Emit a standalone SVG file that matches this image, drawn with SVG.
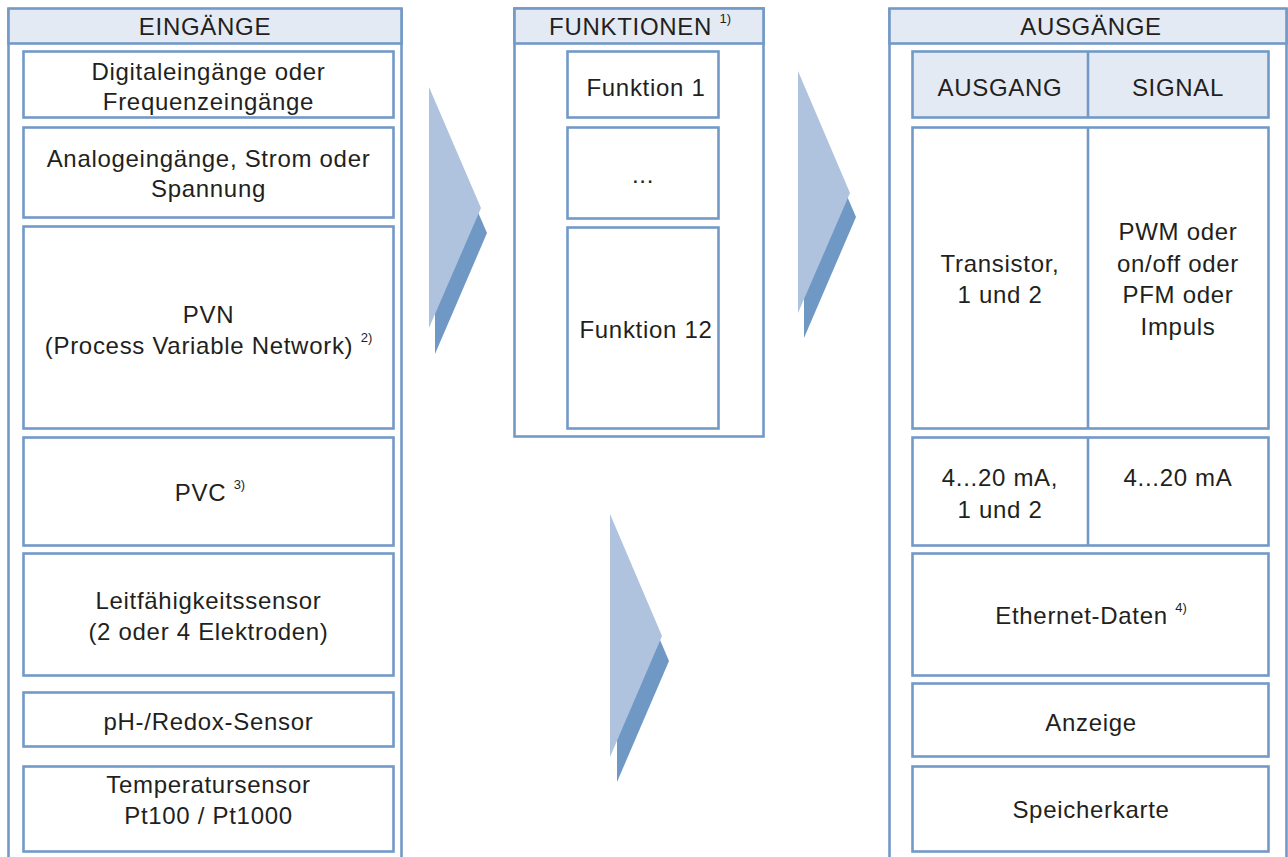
<svg xmlns="http://www.w3.org/2000/svg" width="1288" height="857" viewBox="0 0 1288 857">
<style>
.b{fill:#fff;stroke:#7399C7;stroke-width:2.6}
.h{fill:#E4EAF4;stroke:#7399C7;stroke-width:2.6}
.l{stroke:#7399C7;stroke-width:2.6;fill:none}
text{font-family:"Liberation Sans",Arial,sans-serif;font-size:24px;fill:#231F20;text-anchor:middle;letter-spacing:0.7px}
.s{font-size:13px;letter-spacing:0}
.al{fill:#AFC3DF}
.ad{fill:#7098C5}
</style>
<rect width="1288" height="857" fill="#fff"/>
<g id="connectors">
<polygon class="ad" points="435,113 487,233 435,354"/>
<polygon class="al" points="429,87 481,208 429,328"/>
<polygon class="ad" points="804,96 856,217 804,338"/>
<polygon class="al" points="798,71 850,193 798,313"/>
<polygon class="ad" points="617,539 669,661 617,782"/>
<polygon class="al" points="610,514 662,636 610,757"/>
</g>
<g id="eingaenge">
<line class="l" x1="8.5" y1="8" x2="8.5" y2="857"/>
<line class="l" x1="401.5" y1="8" x2="401.5" y2="857"/>
<rect class="h" x="8.5" y="8.5" width="393" height="35"/>
<text x="205" y="35">EINGÄNGE</text>
</g>
<g id="in1"><rect class="b" x="23.5" y="51.5" width="370" height="66"/>
<text x="208.5" y="80">Digitaleingänge oder</text><text x="208.5" y="110">Frequenzeingänge</text></g>
<g id="in2"><rect class="b" x="23.5" y="127.5" width="370" height="90"/>
<text x="208.5" y="167">Analogeingänge, Strom oder</text><text x="208.5" y="197">Spannung</text></g>
<g id="in3"><rect class="b" x="23.5" y="226.5" width="370" height="202"/>
<text x="208.5" y="323">PVN</text><text x="208.5" y="354">(Process Variable Network) <tspan class="s" dy="-12">2)</tspan></text></g>
<g id="in4"><rect class="b" x="23.5" y="437.5" width="370" height="108"/>
<text x="210" y="501">PVC <tspan class="s" dy="-12">3)</tspan></text></g>
<g id="in5"><rect class="b" x="23.5" y="553.5" width="370" height="122"/>
<text x="208.5" y="609">Leitfähigkeitssensor</text><text x="208.5" y="640">(2 oder 4 Elektroden)</text></g>
<g id="in6"><rect class="b" x="23.5" y="692.5" width="370" height="54"/>
<text x="208.5" y="730">pH-/Redox-Sensor</text></g>
<g id="in7"><rect class="b" x="23.5" y="766.5" width="370" height="85"/>
<text x="208.5" y="793">Temperatursensor</text><text x="208.5" y="824">Pt100 / Pt1000</text></g>

<g id="funktionen">
<rect class="b" x="514.5" y="8.5" width="249" height="428"/>
<rect class="h" x="514.5" y="8.5" width="249" height="35"/>
<text x="640" y="35">FUNKTIONEN <tspan class="s" dy="-12">1)</tspan></text>
</g>
<g id="f1"><rect class="b" x="567.5" y="51.5" width="151" height="66"/>
<text x="646" y="96">Funktion 1</text></g>
<g id="f2"><rect class="b" x="567.5" y="127.5" width="151" height="91"/>
<text x="643" y="183">...</text></g>
<g id="f12"><rect class="b" x="567.5" y="227.5" width="151" height="201"/>
<text x="646" y="338">Funktion 12</text></g>

<g id="ausgaenge">
<line class="l" x1="889.5" y1="8" x2="889.5" y2="857"/>
<line class="l" x1="1286.5" y1="8" x2="1286.5" y2="857"/>
<rect class="h" x="889.5" y="8.5" width="397" height="35"/>
<text x="1091" y="35">AUSGÄNGE</text>
</g>
<g id="out-head"><rect class="h" x="912.5" y="51.5" width="356" height="66"/>
<line class="l" x1="1088" y1="51.5" x2="1088" y2="117.5"/>
<text x="1000" y="96">AUSGANG</text><text x="1178" y="96">SIGNAL</text></g>
<g id="out-transistor"><rect class="b" x="912.5" y="127.5" width="356" height="301"/>
<line class="l" x1="1088" y1="127.5" x2="1088" y2="428.5"/>
<text x="1000" y="272">Transistor,</text><text x="1000" y="303">1 und 2</text>
<text x="1178" y="240">PWM oder</text><text x="1178" y="272">on/off oder</text><text x="1178" y="303">PFM oder</text><text x="1178" y="335">Impuls</text></g>
<g id="out-current"><rect class="b" x="912.5" y="437.5" width="356" height="108"/>
<line class="l" x1="1088" y1="437.5" x2="1088" y2="545.5"/>
<text x="1000" y="486">4...20 mA,</text><text x="1000" y="518">1 und 2</text>
<text x="1178" y="486">4...20 mA</text></g>
<g id="out-ethernet"><rect class="b" x="912.5" y="553.5" width="356" height="122"/>
<text x="1091" y="624">Ethernet-Daten <tspan class="s" dy="-12">4)</tspan></text></g>
<g id="out-anzeige"><rect class="b" x="912.5" y="683.5" width="356" height="73"/>
<text x="1091" y="731">Anzeige</text></g>
<g id="out-speicher"><rect class="b" x="912.5" y="766.5" width="356" height="85"/>
<text x="1091" y="818">Speicherkarte</text></g>
</svg>
